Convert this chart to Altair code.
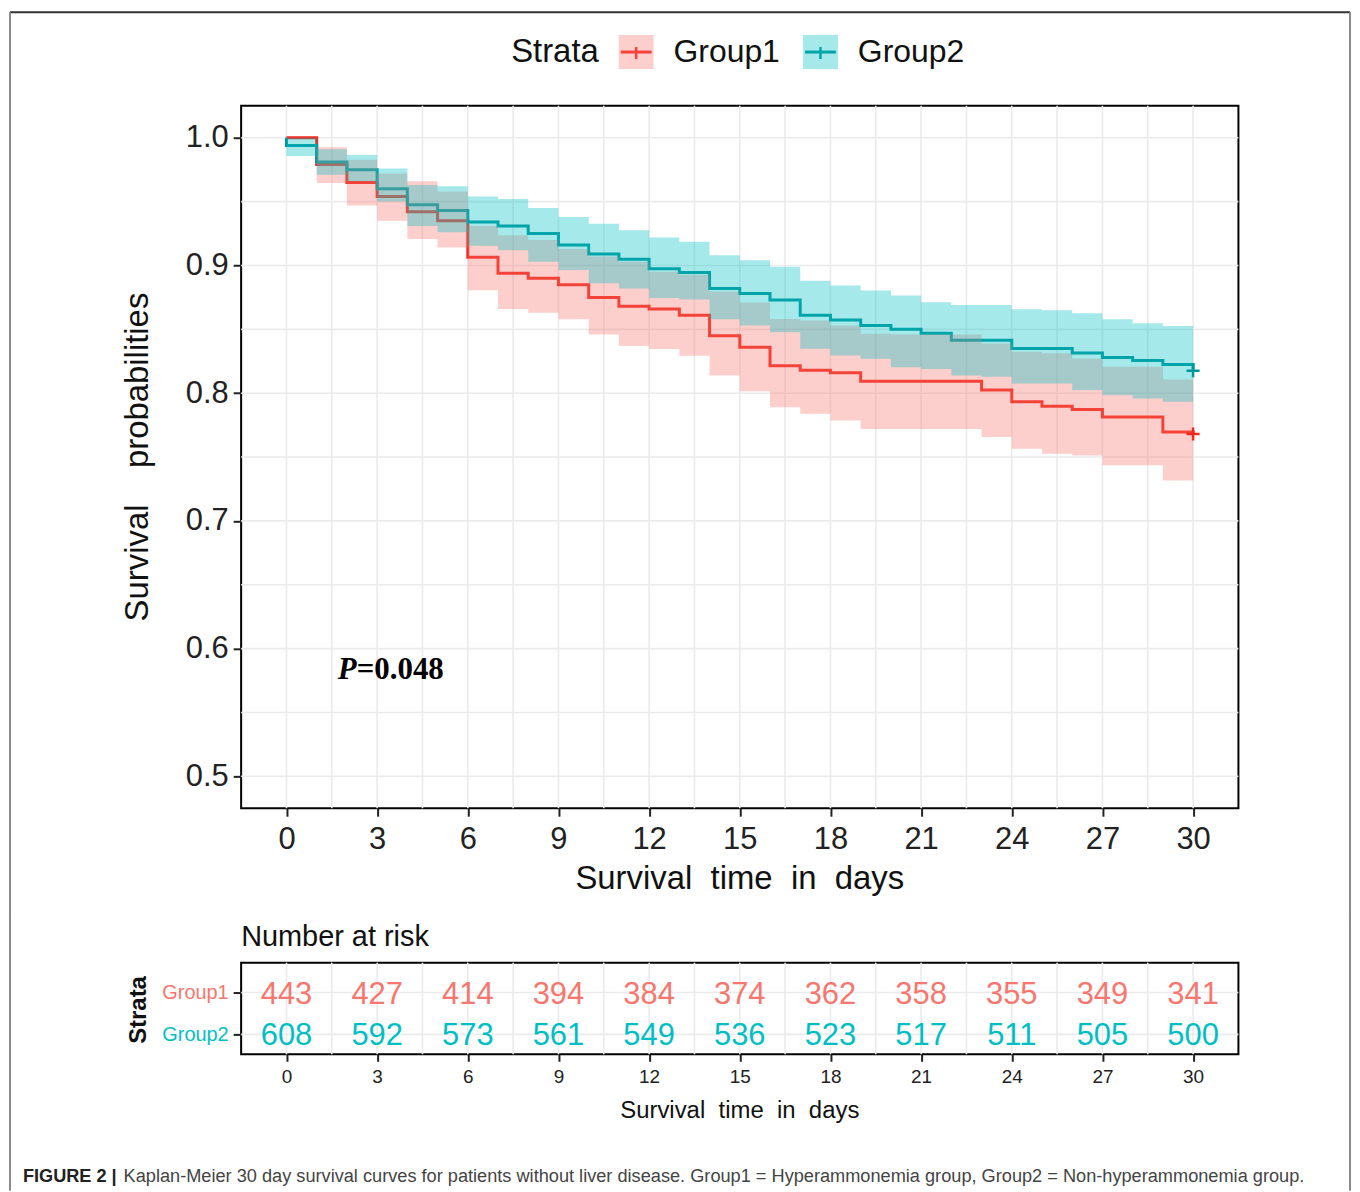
import altair as alt
import pandas as pd

FONT = "Liberation Sans"
SERIF = "Liberation Serif"

groups = ["Group1", "Group2"]

# ---- Kaplan-Meier estimates ----
red_days = [0, 1, 2, 3, 4, 5, 6, 7, 8, 9, 10, 11, 12, 13, 14, 15, 16, 17, 18, 19, 20,
            21, 22, 23, 24, 25, 26, 27, 28, 29, 30]
red_surv = [1.000, 0.979, 0.965, 0.954, 0.942, 0.935, 0.9065, 0.894, 0.890, 0.885, 0.875,
            0.868, 0.866, 0.861, 0.845, 0.836, 0.8215, 0.818, 0.816, 0.8094, 0.8094,
            0.8094, 0.8094, 0.8024, 0.7932, 0.7898, 0.7872, 0.7814, 0.7814, 0.7696, 0.768]
red_lower = [1.000, 0.9646, 0.947, 0.935, 0.9207, 0.914, 0.8806, 0.866, 0.863, 0.8578, 0.846,
             0.837, 0.8345, 0.8293, 0.8138, 0.8015, 0.789, 0.7838, 0.7786, 0.772, 0.772,
             0.772, 0.772, 0.7657, 0.7565, 0.7526, 0.7513, 0.7435, 0.7435, 0.7317, 0.7317]
red_upper = [1.000, 0.9925, 0.9827, 0.972, 0.966, 0.958, 0.931, 0.9236, 0.920, 0.913, 0.907,
             0.903, 0.895, 0.8927, 0.8797, 0.871, 0.858, 0.857, 0.853, 0.8465, 0.846,
             0.846, 0.846, 0.839, 0.8325, 0.8312, 0.8272, 0.8207, 0.8207, 0.8107, 0.8107]

teal_line_days = [0, 0, 1, 2, 3, 4, 5, 6, 7, 8, 9, 10, 11, 12, 13, 14, 15, 16, 17, 18, 19,
                  20, 21, 22, 23, 24, 25, 26, 27, 28, 29, 30]
teal_surv = [1.000, 0.994, 0.981, 0.975, 0.960, 0.9475, 0.943, 0.934, 0.931, 0.925, 0.916,
             0.909, 0.9048, 0.8975, 0.8945, 0.882, 0.878, 0.873, 0.861, 0.8574, 0.853,
             0.850, 0.847, 0.8415, 0.8415, 0.835, 0.835, 0.8315, 0.828, 0.8255, 0.8225, 0.8175]
teal_band_days = [0, 1, 2, 3, 4, 5, 6, 7, 8, 9, 10, 11, 12, 13, 14, 15, 16, 17, 18, 19, 20,
                  21, 22, 23, 24, 25, 26, 27, 28, 29, 30]
teal_lower = [0.9858, 0.971, 0.966, 0.950, 0.931, 0.926, 0.9155, 0.912, 0.903, 0.8965, 0.886,
              0.882, 0.8746, 0.8733, 0.8578, 0.853, 0.8478, 0.8347, 0.8295, 0.8269, 0.8204,
              0.819, 0.8138, 0.8128, 0.8076, 0.8076, 0.8024, 0.7984, 0.7958, 0.7932, 0.7932]
teal_upper = [1.000, 0.991, 0.9866, 0.976, 0.963, 0.962, 0.954, 0.952, 0.945, 0.938, 0.9327,
              0.9275, 0.922, 0.9185, 0.908, 0.904, 0.899, 0.888, 0.8843, 0.8804, 0.8765,
              0.8713, 0.869, 0.869, 0.8657, 0.865, 0.8626, 0.8579, 0.8547, 0.8526, 0.8526]

censor_day = [30, 30]
censor_surv = [0.768, 0.8175]

# ---- Number at risk ----
risk_times = [0, 3, 6, 9, 12, 15, 18, 21, 24, 27, 30]
risk_group1 = [443, 427, 414, 394, 384, 374, 362, 358, 355, 349, 341]
risk_group2 = [608, 592, 573, 561, 549, 536, 523, 517, 511, 505, 500]

# ---- axes / grid ----
x_ticks = [0, 3, 6, 9, 12, 15, 18, 21, 24, 27, 30]
x_grid = [0, 1.5, 3, 4.5, 6, 7.5, 9, 10.5, 12, 13.5, 15, 16.5, 18, 19.5, 21, 22.5, 24,
          25.5, 27, 28.5, 30]
y_ticks = [0.5, 0.6, 0.7, 0.8, 0.9, 1.0]
y_grid = [0.5, 0.55, 0.6, 0.65, 0.7, 0.75, 0.8, 0.85, 0.9, 0.95, 1.0]

RED_LINE = "#F0281E"
TEAL_LINE = "#00969B"
RED_FILL = "#F8766D"
TEAL_FILL = "#00BFC4"

W, H = 1001, 705
RH = 92

# ---- data frames ----
lines_df = pd.concat([
    pd.DataFrame({"grp": "Group1", "t": red_days, "s": red_surv, "k": range(len(red_days))}),
    pd.DataFrame({"grp": "Group2", "t": teal_line_days, "s": teal_surv,
                  "k": range(len(teal_line_days))}),
], ignore_index=True)
red_band = pd.DataFrame({"t": red_days, "lo": red_lower, "hi": red_upper})
teal_band = pd.DataFrame({"t": teal_band_days, "lo": teal_lower, "hi": teal_upper})
cens_df = pd.DataFrame({"grp": groups, "t": censor_day, "s": censor_surv})
risk_df = pd.DataFrame({
    "t": risk_times + risk_times,
    "grp": ["Group1"] * len(risk_times) + ["Group2"] * len(risk_times),
    "n": risk_group1 + risk_group2,
})

X_SCALE = alt.Scale(domain=[-1.5, 31.5], nice=False, zero=False)
Y_SCALE = alt.Scale(domain=[0.475, 1.025], nice=False, zero=False)
LINE_COLOR = alt.Color("grp:N", scale=alt.Scale(domain=groups, range=[RED_LINE, TEAL_LINE]),
                       legend=None)

one = pd.DataFrame({"z": [0]})


def rule(x, y, x2=None, y2=None, color="#333333", width=2.0):
    enc = dict(x=alt.value(x), y=alt.value(y))
    if x2 is not None:
        enc["x2"] = alt.value(x2)
    if y2 is not None:
        enc["y2"] = alt.value(y2)
    return alt.Chart(one).mark_rule(color=color, strokeWidth=width).encode(**enc)


def text(txt, x, y, size, color="#111111", weight="normal", align="left", font=FONT,
         style="normal", angle=0, baseline="middle"):
    return alt.Chart(one).mark_text(
        text=txt, fontSize=size, color=color, fontWeight=weight, align=align, font=font,
        fontStyle=style, angle=angle, baseline=baseline
    ).encode(x=alt.value(x), y=alt.value(y))


def box(x, x2, y, y2, color, opacity):
    return alt.Chart(one).mark_rect(color=color, opacity=opacity).encode(
        x=alt.value(x), x2=alt.value(x2), y=alt.value(y), y2=alt.value(y2))


# ---------------- main survival panel ----------------
x_axis = alt.Axis(values=x_ticks, format="d", labelFontSize=31, labelPadding=8, tickSize=8,
                  tickWidth=2, tickColor="#222222", domain=False, grid=False,
                  labelColor="#222222", labelFont=FONT,
                  title="Survival\u00a0\u00a0time\u00a0\u00a0in\u00a0\u00a0days",
                  titleFontSize=33, titleFontWeight="normal", titleFont=FONT,
                  titleColor="#111111", titleX=500, titleY=71, titleAlign="center",
                  titleBaseline="middle")
y_axis = alt.Axis(values=y_ticks, format=".1f", labelFontSize=31, labelPadding=5, tickSize=8,
                  tickWidth=2, tickColor="#222222", domain=False, grid=False,
                  labelColor="#222222", labelFont=FONT,
                  title="Survival\u00a0\u00a0\u00a0\u00a0probabilities",
                  titleFontSize=33, titleFontWeight="normal", titleFont=FONT,
                  titleColor="#111111", titleAngle=270, titleX=-104, titleY=352,
                  titleAlign="center", titleBaseline="middle")

gx = alt.Chart(pd.DataFrame({"v": x_grid})).mark_rule(color="#EBEBEB", strokeWidth=1.6).encode(
    x=alt.X("v:Q", scale=X_SCALE, axis=x_axis))
gy = alt.Chart(pd.DataFrame({"v": y_grid})).mark_rule(color="#EBEBEB", strokeWidth=1.6).encode(
    y=alt.Y("v:Q", scale=Y_SCALE, axis=y_axis))

curves = alt.Chart(lines_df).mark_line(interpolate="step-after", strokeWidth=3).encode(
    x=alt.X("t:Q", scale=X_SCALE, axis=x_axis),
    y=alt.Y("s:Q", scale=Y_SCALE, axis=y_axis),
    color=LINE_COLOR,
    order="k:Q",
)
red_ribbon = alt.Chart(red_band).mark_area(interpolate="step-after", color=RED_FILL,
                                           opacity=0.35).encode(
    x=alt.X("t:Q", scale=X_SCALE, axis=x_axis),
    y=alt.Y("lo:Q", scale=Y_SCALE, axis=y_axis),
    y2="hi:Q",
)
teal_ribbon = alt.Chart(teal_band).mark_area(interpolate="step-after", color=TEAL_FILL,
                                             opacity=0.35).encode(
    x=alt.X("t:Q", scale=X_SCALE, axis=x_axis),
    y=alt.Y("lo:Q", scale=Y_SCALE, axis=y_axis),
    y2="hi:Q",
)
censors = alt.Chart(cens_df).mark_point(shape="M-1,0H1M0,-1V1", size=170, filled=False,
                                        strokeWidth=2.5, opacity=1).encode(
    x=alt.X("t:Q", scale=X_SCALE, axis=x_axis),
    y=alt.Y("s:Q", scale=Y_SCALE, axis=y_axis),
    color=LINE_COLOR,
)

p_text = (text("P", 97, 575, 31, color="#000000", weight="bold", font=SERIF, style="italic",
               baseline="alphabetic")
          + text("=0.048", 116, 575, 31, color="#000000", weight="bold", font=SERIF,
                 baseline="alphabetic"))

legend = (
    text("Strata", 271, -54, 33)
    + box(379, 414, -71, -37, RED_FILL, 0.35)
    + rule(381, -54, x2=412, color="#F3433A", width=3)
    + rule(396.5, -59, y2=-47, color="#F3433A", width=2.5)
    + text("Group1", 434, -54, 32)
    + box(564, 599, -71, -37, TEAL_FILL, 0.35)
    + rule(566, -54, x2=597, color="#00A5A9", width=3)
    + rule(581.5, -59, y2=-47, color="#00A5A9", width=2.5)
    + text("Group2", 619, -54, 32)
)

frame_top = (
    rule(-232, -94, x2=1113, color="#333333", width=2)
    + rule(-232, -94, y2=820, color="#8A8A8A", width=2)
    + rule(1113, -94, y2=820, color="#8A8A8A", width=2)
)

main = alt.layer(gx, gy, curves, red_ribbon, teal_ribbon, censors, p_text, legend,
                 frame_top).properties(width=W, height=H)

# ---------------- risk table ----------------
RISK_Y = alt.Scale(type="point", domain=groups, range=[30, 72], padding=0)
risk_y_axis = alt.Axis(labelFontSize=20, labelPadding=5, tickSize=8, tickWidth=2,
                       tickColor="#222222", domain=False, grid=False, labelFont=FONT,
                       labelColor={"condition": {"test": "datum.value == 'Group1'",
                                                 "value": "#F8766D"},
                                   "value": "#00BFC4"},
                       title="Strata", titleFontSize=24, titleFontWeight="bold",
                       titleFont=FONT, titleColor="#111111", titleAngle=270, titleX=-103,
                       titleY=47, titleAlign="center", titleBaseline="middle")
risk_x_axis = alt.Axis(values=x_ticks, format="d", labelFontSize=19, labelPadding=6,
                       tickSize=7, tickWidth=2, tickColor="#222222", domain=False, grid=False,
                       labelColor="#222222", labelFont=FONT,
                       title="Survival\u00a0\u00a0time\u00a0\u00a0in\u00a0\u00a0days",
                       titleFontSize=24, titleFontWeight="normal", titleFont=FONT,
                       titleColor="#111111", titleX=500, titleY=56, titleAlign="center",
                       titleBaseline="middle")

rgx = alt.Chart(pd.DataFrame({"v": x_grid})).mark_rule(color="#EBEBEB", strokeWidth=1.6).encode(
    x=alt.X("v:Q", scale=X_SCALE, axis=risk_x_axis))
rgy = alt.Chart(pd.DataFrame({"grp": groups})).mark_rule(color="#EBEBEB", strokeWidth=1.6).encode(
    y=alt.Y("grp:N", scale=RISK_Y, axis=risk_y_axis))
risk_text = alt.Chart(risk_df).mark_text(fontSize=31, font=FONT, baseline="middle",
                                         dy=2).encode(
    x=alt.X("t:Q", scale=X_SCALE, axis=risk_x_axis),
    y=alt.Y("grp:N", scale=RISK_Y, axis=risk_y_axis),
    text="n:Q",
    color=alt.Color("grp:N", scale=alt.Scale(domain=groups, range=["#F8766D", "#00BFC4"]),
                    legend=None),
)

risk_deco = (
    text("Number at risk", 0, -26, 29)
    + text("FIGURE 2 |", -219, 215, 18.2, color="#222222", weight="bold")
    + text("Kaplan-Meier 30 day survival curves for patients without liver disease. "
           "Group1 = Hyperammonemia group, Group2 = Non-hyperammonemia group.",
           -118, 215, 18.25, color="#444444")
    + rule(-232, -48, y2=229, color="#8A8A8A", width=2)
    + rule(1113, -48, y2=229, color="#8A8A8A", width=2)
)

risk = alt.layer(rgx, rgy, risk_text, risk_deco).properties(width=W, height=RH)

chart = (
    alt.vconcat(main, risk, spacing=-12)
    .resolve_scale(x="independent", y="independent", color="independent")
    .properties(padding={"left": 0, "top": 0, "right": 0, "bottom": 0})
    .configure(font=FONT)
    .configure_view(stroke="#000000", strokeWidth=2)
)

chart.save("out.html", embed_options={"renderer": "svg", "actions": False})
